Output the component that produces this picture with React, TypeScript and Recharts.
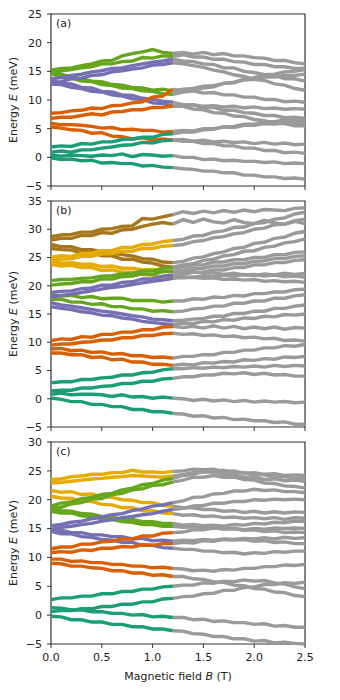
import React from 'react';
import { LineChart, Line, XAxis, YAxis, ReferenceArea } from 'recharts';

// magnetic field grid, 0.1 T steps
const B_VALUES = [
  0, 0.1, 0.2, 0.3, 0.4, 0.5, 0.6, 0.7, 0.8, 0.9, 1.0, 1.1, 1.2,
  1.3, 1.4, 1.5, 1.6, 1.7, 1.8, 1.9, 2.0, 2.1, 2.2, 2.3, 2.4, 2.5,
];
// levels are coloured up to this index (B = 1.2 T), grey after it
const SPLIT = 12;
const X_TICKS = [0, 0.5, 1.0, 1.5, 2.0, 2.5];

const TEAL = '#1b9e77';
const ORANGE = '#d95f02';
const PURPLE = '#7570b3';
const GREEN = '#66a61e';
const YELLOW = '#e6ab02';
const BROWN = '#a6761d';
const GREY = '#9a9a9a';

// panel (a)
const aG1 = [15.2, 15.5, 15.6, 16.0, 16.3, 16.8, 16.9, 17.7, 18.1, 18.4, 18.8, 18.3, 18.1, 18.3, 18.0, 18.3, 17.9, 18.1, 17.7, 17.7, 17.4, 17.3, 16.9, 16.9, 16.5, 16.3];
const aG2 = [14.8, 15.1, 15.3, 15.6, 15.8, 16.3, 16.3, 16.7, 16.8, 17.4, 17.3, 17.7, 17.6, 17.9, 17.5, 17.5, 17.1, 17.1, 16.7, 16.6, 16.2, 16.2, 15.8, 15.8, 15.5, 15.5];
const aP1 = [13.7, 13.9, 14.3, 14.5, 14.9, 15.1, 15.5, 15.6, 16.0, 16.3, 16.6, 16.8, 17.1, 16.8, 16.7, 16.3, 16.2, 15.6, 15.6, 15.0, 14.8, 14.4, 14.3, 13.7, 13.7, 13.3];
const aP2 = [13.0, 13.2, 13.7, 13.8, 14.3, 14.4, 14.9, 15.1, 15.4, 15.6, 16.1, 16.2, 16.5, 16.3, 16.0, 15.7, 15.2, 14.9, 14.4, 14.1, 13.6, 13.4, 12.8, 12.6, 12.0, 11.7];
const aG3 = [15.0, 14.5, 14.0, 13.7, 13.3, 13.2, 12.7, 12.6, 12.2, 12.1, 11.7, 11.9, 11.6, 11.9, 12.0, 12.4, 12.5, 12.9, 13.0, 13.5, 13.6, 14.0, 14.0, 14.3, 14.3, 14.5];
const aG4 = [14.6, 14.1, 13.8, 13.3, 13.2, 12.7, 12.5, 12.1, 12.0, 11.6, 11.5, 11.1, 11.0, 11.4, 11.6, 12.1, 12.3, 12.9, 13.1, 13.6, 13.9, 14.4, 14.5, 14.9, 15.0, 15.3];
const aP3 = [13.5, 12.9, 12.8, 12.2, 12.1, 11.5, 11.4, 10.9, 10.8, 10.3, 10.1, 9.8, 9.6, 9.2, 9.1, 8.7, 8.7, 8.2, 8.2, 7.8, 7.7, 7.3, 7.3, 6.9, 7.0, 6.8];
const aP4 = [12.8, 12.7, 12.2, 12.0, 11.5, 11.4, 10.9, 10.7, 10.2, 10.1, 9.5, 9.4, 8.9, 8.9, 8.4, 8.3, 7.8, 7.7, 7.2, 7.1, 6.6, 6.4, 5.9, 5.9, 5.5, 5.5];
const aO1 = [7.7, 7.8, 8.1, 8.2, 8.6, 8.5, 9.0, 9.1, 9.5, 9.7, 10.5, 10.7, 11.9, 11.5, 11.6, 11.2, 11.3, 10.9, 10.9, 10.5, 10.5, 10.1, 10.1, 9.7, 9.8, 9.6];
const aO2 = [6.8, 7.0, 7.0, 7.3, 7.6, 7.4, 7.9, 8.0, 8.3, 8.3, 8.7, 8.7, 9.0, 9.1, 9.2, 8.9, 9.0, 8.8, 8.9, 8.6, 8.8, 8.5, 8.6, 8.4, 8.5, 8.4];
const aO3 = [5.9, 5.7, 5.7, 5.6, 5.4, 5.1, 5.2, 4.8, 4.9, 4.7, 4.7, 4.4, 4.5, 4.7, 4.6, 5.0, 5.0, 5.3, 5.2, 5.6, 5.6, 5.9, 5.8, 6.1, 6.0, 6.1];
const aO4 = [5.3, 5.1, 4.8, 4.7, 4.2, 4.3, 3.7, 3.6, 3.2, 3.4, 3.0, 3.2, 3.0, 3.1, 2.8, 3.0, 2.7, 2.8, 2.6, 2.7, 2.4, 2.6, 2.3, 2.5, 2.2, 2.3];
const aT1 = [1.8, 2.0, 1.9, 2.4, 2.3, 2.7, 2.7, 3.1, 3.2, 3.5, 3.5, 4.0, 4.1, 4.4, 4.4, 4.8, 4.9, 5.3, 5.4, 5.8, 5.8, 6.2, 6.2, 6.5, 6.4, 6.6];
const aT2 = [0.9, 1.1, 0.9, 1.3, 1.3, 1.6, 1.8, 2.1, 2.2, 2.6, 2.5, 2.9, 3.0, 2.8, 2.8, 2.4, 2.4, 2.0, 2.0, 1.6, 1.6, 1.2, 1.2, 0.8, 0.9, 0.7];
const aT3 = [0.4, 0.2, 0.4, 0.3, 0.2, 0.4, 0.3, 0.6, 0.1, 0.5, 0.4, 0.2, 0.3, 0.0, 0.0, -0.4, -0.3, -0.6, -0.5, -0.7, -0.7, -0.9, -0.8, -1.1, -1.0, -1.1];
const aT4 = [-0.1, -0.4, -0.3, -0.6, -0.5, -1.0, -0.9, -1.1, -1.1, -1.5, -1.4, -1.7, -1.8, -2.0, -2.1, -2.4, -2.4, -2.7, -2.7, -3.1, -3.1, -3.4, -3.4, -3.7, -3.6, -3.8];

// panel (b)
const bBr1 = [28.7, 29.0, 29.1, 29.5, 29.5, 30.0, 30.1, 30.5, 30.6, 31.9, 31.8, 32.2, 32.6, 33.1, 32.8, 33.2, 32.9, 33.3, 33.0, 33.4, 33.1, 33.5, 33.4, 33.3, 33.7, 33.8];
const bBr2 = [28.1, 28.4, 28.4, 28.9, 28.9, 29.4, 29.3, 29.9, 30.0, 30.5, 30.9, 31.2, 30.9, 31.7, 31.2, 31.8, 31.3, 31.1, 31.7, 31.2, 31.0, 31.6, 31.1, 30.9, 31.4, 31.0];
const bY1 = [25.0, 25.3, 25.2, 25.7, 25.8, 26.2, 26.2, 26.8, 26.8, 27.3, 27.4, 27.8, 28.0, 28.2, 28.8, 28.9, 29.5, 29.7, 30.3, 30.4, 31.0, 31.2, 31.8, 32.0, 32.7, 33.0];
const bY2 = [24.4, 24.7, 24.8, 25.2, 25.2, 25.6, 25.7, 26.1, 26.1, 26.6, 26.6, 27.0, 27.1, 27.3, 27.8, 28.0, 28.5, 28.7, 29.2, 29.4, 30.0, 30.2, 30.8, 30.9, 31.5, 31.8];
const bBr3 = [27.3, 26.9, 26.9, 26.4, 26.4, 26.0, 25.8, 25.5, 25.3, 24.8, 24.7, 24.2, 24.1, 24.3, 24.9, 25.1, 25.7, 26.0, 26.6, 26.8, 27.5, 27.7, 28.4, 28.6, 29.3, 29.6];
const bBr4 = [26.6, 26.4, 26.3, 25.8, 25.9, 25.3, 25.3, 24.7, 24.7, 24.2, 24.0, 23.5, 23.3, 23.7, 23.9, 24.5, 24.7, 25.3, 25.5, 26.1, 26.2, 26.8, 27.0, 27.6, 27.8, 28.3];
const bY3 = [24.3, 24.0, 24.1, 23.8, 23.8, 23.4, 23.5, 23.1, 23.1, 22.8, 22.9, 22.5, 22.5, 22.3, 22.5, 22.2, 22.3, 22.0, 22.2, 21.9, 22.0, 21.7, 21.9, 21.6, 21.7, 21.5];
const bY4 = [23.8, 23.5, 23.6, 23.2, 23.2, 22.7, 22.8, 22.4, 22.4, 22.0, 21.9, 21.3, 21.6, 21.4, 21.5, 21.3, 21.4, 21.1, 21.2, 21.0, 21.1, 20.8, 20.9, 20.7, 20.8, 20.6];
const bG1 = [20.9, 21.1, 21.1, 21.3, 21.4, 21.7, 21.8, 22.1, 22.2, 22.6, 22.6, 23.1, 23.2, 23.3, 23.7, 23.7, 24.2, 24.2, 24.6, 24.6, 25.0, 25.0, 25.5, 25.5, 25.9, 26.0];
const bG2 = [20.1, 20.3, 20.4, 20.7, 20.7, 21.2, 21.2, 21.6, 21.7, 22.1, 22.0, 22.5, 22.6, 22.7, 23.1, 23.1, 23.5, 23.5, 23.9, 23.9, 24.3, 24.4, 24.8, 24.8, 25.2, 25.3];
const bP1 = [18.8, 19.0, 19.1, 19.5, 19.6, 20.1, 20.1, 20.6, 20.7, 21.2, 21.2, 21.7, 21.9, 22.0, 22.4, 22.4, 22.8, 22.8, 23.2, 23.2, 23.7, 23.7, 24.1, 24.1, 24.5, 24.6];
const bP2 = [18.0, 18.3, 18.5, 18.8, 19.1, 19.4, 19.7, 19.9, 20.2, 20.5, 20.8, 21.0, 21.3, 21.5, 21.5, 21.7, 21.6, 21.9, 21.7, 22.0, 21.8, 22.1, 21.9, 22.2, 22.0, 22.2];
const bG3 = [18.4, 18.2, 18.3, 17.9, 18.1, 17.7, 17.8, 17.8, 17.4, 17.4, 17.4, 17.1, 17.3, 17.3, 17.7, 17.6, 18.0, 17.9, 18.3, 18.2, 18.6, 18.6, 18.9, 18.9, 19.3, 19.4];
const bG4 = [17.6, 17.6, 17.1, 17.1, 16.7, 16.8, 16.3, 16.3, 15.9, 15.9, 15.5, 15.6, 15.4, 15.5, 15.9, 16.0, 16.4, 16.4, 16.9, 16.9, 17.3, 17.3, 17.8, 17.8, 18.2, 18.4];
const bP3 = [17.0, 16.6, 16.4, 16.1, 15.8, 15.5, 15.3, 15.0, 14.7, 14.5, 14.1, 14.0, 13.8, 13.9, 14.1, 14.2, 14.6, 14.6, 15.1, 15.1, 15.5, 15.5, 16.0, 16.0, 16.4, 16.6];
const bP4 = [16.3, 16.0, 15.8, 15.4, 15.2, 14.8, 14.7, 14.3, 14.1, 13.7, 13.5, 13.3, 13.1, 13.4, 13.3, 13.7, 13.6, 14.0, 13.9, 14.3, 14.2, 14.6, 14.5, 14.9, 14.8, 15.0];
const bO1 = [10.3, 10.6, 10.5, 11.0, 10.9, 11.4, 11.4, 11.8, 11.8, 12.2, 12.2, 12.7, 12.8, 12.6, 12.8, 12.5, 12.9, 12.5, 12.8, 12.4, 12.7, 12.4, 12.7, 12.3, 12.6, 12.5];
const bO2 = [9.5, 9.7, 9.7, 10.0, 10.1, 10.4, 10.4, 10.8, 10.8, 11.2, 11.2, 11.5, 11.6, 11.4, 11.5, 11.2, 11.3, 11.0, 11.1, 10.8, 10.9, 10.6, 10.7, 10.3, 10.4, 10.2];
const bO3 = [8.8, 8.9, 8.5, 8.6, 8.2, 8.3, 7.9, 8.0, 7.6, 7.6, 7.3, 7.4, 7.2, 7.5, 7.5, 7.8, 7.8, 8.2, 8.2, 8.6, 8.6, 9.0, 9.0, 9.4, 9.3, 9.6];
const bO4 = [8.1, 8.1, 7.8, 7.8, 7.3, 7.4, 6.9, 7.0, 6.5, 6.5, 6.1, 6.1, 5.9, 6.1, 6.0, 6.4, 6.3, 6.6, 6.5, 6.9, 6.8, 7.1, 7.0, 7.4, 7.3, 7.5];
const bT1 = [2.8, 3.0, 3.0, 3.4, 3.4, 3.7, 3.8, 4.2, 4.2, 4.6, 4.7, 5.1, 5.3, 5.3, 5.5, 5.4, 5.6, 5.5, 5.7, 5.6, 5.8, 5.6, 5.9, 5.7, 5.9, 5.8];
const bT2 = [1.4, 1.5, 1.5, 1.9, 1.9, 2.2, 2.3, 2.7, 2.7, 3.1, 3.1, 3.5, 3.6, 3.9, 3.9, 4.2, 4.2, 4.5, 4.4, 4.6, 4.3, 4.5, 4.2, 4.3, 4.0, 4.0];
const bT3 = [0.8, 1.0, 0.7, 0.8, 0.8, 0.7, 0.4, 0.7, 0.3, 0.4, 0.1, 0.3, 0.1, 0.0, -0.3, -0.1, -0.4, -0.2, -0.5, -0.3, -0.6, -0.4, -0.6, -0.5, -0.7, -0.6];
const bT4 = [0.1, -0.1, -0.5, -0.5, -1.0, -1.0, -1.4, -1.4, -1.9, -1.9, -2.3, -2.3, -2.6, -2.7, -3.1, -3.0, -3.4, -3.3, -3.7, -3.6, -3.9, -3.9, -4.2, -4.1, -4.5, -4.5];

// panel (c)
const cY1 = [23.5, 23.6, 24.0, 24.1, 24.4, 24.4, 24.7, 24.7, 25.1, 24.8, 24.8, 24.7, 24.9, 25.0, 25.3, 25.2, 25.3, 24.9, 25.0, 24.6, 24.7, 24.4, 24.5, 24.2, 24.3, 24.2];
const cY2 = [22.9, 23.0, 23.2, 23.4, 23.6, 23.7, 23.9, 24.0, 24.2, 24.1, 24.0, 23.9, 24.1, 24.4, 24.7, 24.8, 24.8, 24.4, 24.3, 23.9, 23.9, 23.5, 23.6, 23.3, 23.4, 23.2];
const cY3 = [21.6, 21.3, 21.4, 20.9, 21.0, 20.5, 20.4, 20.0, 19.9, 19.5, 19.5, 19.0, 18.9, 18.6, 18.6, 18.3, 18.3, 18.0, 18.1, 17.8, 18.0, 17.7, 17.9, 17.7, 17.9, 17.8];
const cY4 = [20.6, 20.3, 20.2, 19.8, 19.7, 19.2, 19.1, 18.6, 18.6, 18.1, 18.1, 17.7, 17.6, 17.3, 17.4, 17.1, 17.2, 16.9, 17.0, 16.8, 16.9, 16.7, 16.9, 16.6, 16.9, 16.8];
const cG1 = [18.9, 19.4, 19.6, 20.2, 20.4, 20.9, 21.1, 21.7, 22.0, 22.6, 22.8, 23.4, 23.7, 24.2, 24.4, 24.9, 24.9, 25.1, 24.7, 24.7, 24.3, 24.3, 23.9, 24.0, 23.7, 23.8];
const cG2 = [18.5, 18.7, 19.3, 19.5, 20.1, 20.2, 20.9, 21.1, 21.7, 21.9, 22.5, 22.6, 23.1, 23.4, 23.9, 23.9, 24.2, 23.9, 23.9, 23.5, 23.4, 22.9, 22.8, 22.4, 22.3, 22.0];
const cG3 = [18.4, 18.1, 18.0, 17.6, 17.5, 17.1, 17.0, 16.6, 16.6, 16.2, 16.2, 15.9, 15.9, 15.6, 15.7, 15.5, 15.6, 15.4, 15.7, 15.6, 15.9, 15.8, 16.1, 16.0, 16.3, 16.2];
const cG4 = [18.0, 17.7, 17.7, 17.2, 17.1, 16.7, 16.6, 16.2, 16.1, 15.7, 15.7, 15.4, 15.4, 15.2, 15.3, 15.0, 15.2, 14.9, 15.0, 14.8, 15.0, 14.9, 15.1, 15.0, 15.1, 15.0];
const cP1 = [15.5, 15.7, 16.1, 16.3, 16.7, 17.0, 17.4, 17.6, 18.1, 18.4, 18.9, 19.1, 19.5, 19.8, 20.4, 20.5, 21.0, 21.1, 21.5, 21.5, 21.8, 21.6, 21.7, 21.4, 21.4, 21.2];
const cP2 = [14.9, 15.2, 15.4, 15.7, 15.9, 16.3, 16.5, 16.9, 17.1, 17.4, 17.6, 18.0, 18.3, 18.5, 18.9, 19.0, 19.4, 19.4, 19.7, 19.7, 20.0, 19.9, 20.1, 20.0, 20.1, 20.0];
const cP3 = [14.8, 14.7, 14.3, 14.3, 13.9, 13.9, 13.6, 13.6, 13.2, 13.3, 12.9, 13.0, 12.8, 13.0, 12.9, 13.1, 13.0, 13.2, 13.1, 13.3, 13.2, 13.4, 13.2, 13.5, 13.3, 13.4];
const cP4 = [14.5, 14.1, 14.1, 13.6, 13.5, 13.1, 13.0, 12.6, 12.6, 12.1, 12.1, 11.7, 11.6, 11.4, 11.4, 11.1, 11.1, 10.8, 10.9, 10.6, 10.8, 10.7, 11.0, 10.9, 11.1, 11.1];
const cO1 = [11.5, 11.8, 11.8, 12.3, 12.3, 12.7, 12.8, 13.2, 13.2, 13.7, 13.7, 14.2, 14.3, 14.4, 14.8, 14.8, 15.1, 14.9, 15.0, 14.7, 14.8, 14.5, 14.6, 14.3, 14.4, 14.3];
const cO2 = [10.8, 11.0, 10.9, 11.3, 11.2, 11.6, 11.6, 11.9, 11.8, 12.2, 12.1, 12.4, 12.4, 12.6, 12.5, 12.9, 12.8, 13.1, 13.0, 13.1, 12.8, 12.9, 12.6, 12.7, 12.4, 12.4];
const cO3 = [9.7, 9.7, 9.3, 9.4, 9.1, 9.1, 8.8, 8.8, 8.5, 8.5, 8.2, 8.3, 8.1, 8.0, 7.7, 7.8, 7.6, 7.9, 7.8, 8.1, 8.1, 8.4, 8.4, 8.7, 8.6, 8.8];
const cO4 = [9.0, 8.9, 8.5, 8.5, 8.2, 8.1, 7.7, 7.7, 7.3, 7.3, 6.9, 7.0, 6.7, 6.7, 6.3, 6.2, 5.8, 5.7, 5.2, 5.1, 4.6, 4.5, 4.0, 3.9, 3.4, 3.2];
const cT1 = [2.7, 3.0, 3.0, 3.3, 3.3, 3.7, 3.7, 4.1, 4.1, 4.5, 4.5, 4.9, 5.0, 5.2, 5.2, 5.6, 5.5, 5.9, 5.8, 6.1, 5.9, 6.0, 5.6, 5.4, 4.9, 4.6];
const cT2 = [0.6, 0.8, 0.8, 1.1, 1.1, 1.5, 1.5, 1.9, 1.9, 2.3, 2.3, 2.8, 2.9, 3.2, 3.3, 3.7, 3.8, 4.3, 4.3, 4.8, 4.9, 5.3, 5.3, 5.6, 5.5, 5.7];
const cT3 = [1.3, 1.2, 0.9, 0.9, 0.6, 0.6, 0.3, 0.3, 0.0, 0.1, -0.3, -0.2, -0.4, -0.4, -0.8, -0.7, -1.1, -1.0, -1.3, -1.3, -1.6, -1.5, -1.9, -1.8, -2.1, -2.1];
const cT4 = [-0.2, -0.3, -0.8, -0.8, -1.2, -1.2, -1.6, -1.6, -2.0, -2.0, -2.4, -2.4, -2.7, -2.8, -3.2, -3.3, -3.7, -3.7, -4.1, -4.1, -4.5, -4.4, -4.8, -4.7, -4.9, -5.0];

type Level = { id: string; color: string; values: number[] };

const levelsA: Level[] = [
  { id: 'g1', color: GREEN, values: aG1 }, { id: 'g2', color: GREEN, values: aG2 },
  { id: 'g3', color: GREEN, values: aG3 }, { id: 'g4', color: GREEN, values: aG4 },
  { id: 'p1', color: PURPLE, values: aP1 }, { id: 'p2', color: PURPLE, values: aP2 },
  { id: 'p3', color: PURPLE, values: aP3 }, { id: 'p4', color: PURPLE, values: aP4 },
  { id: 'o1', color: ORANGE, values: aO1 }, { id: 'o2', color: ORANGE, values: aO2 },
  { id: 'o3', color: ORANGE, values: aO3 }, { id: 'o4', color: ORANGE, values: aO4 },
  { id: 't1', color: TEAL, values: aT1 }, { id: 't2', color: TEAL, values: aT2 },
  { id: 't3', color: TEAL, values: aT3 }, { id: 't4', color: TEAL, values: aT4 },
];

const levelsB: Level[] = [
  { id: 'br1', color: BROWN, values: bBr1 }, { id: 'br2', color: BROWN, values: bBr2 },
  { id: 'br3', color: BROWN, values: bBr3 }, { id: 'br4', color: BROWN, values: bBr4 },
  { id: 'y1', color: YELLOW, values: bY1 }, { id: 'y2', color: YELLOW, values: bY2 },
  { id: 'y3', color: YELLOW, values: bY3 }, { id: 'y4', color: YELLOW, values: bY4 },
  { id: 'g1', color: GREEN, values: bG1 }, { id: 'g2', color: GREEN, values: bG2 },
  { id: 'g3', color: GREEN, values: bG3 }, { id: 'g4', color: GREEN, values: bG4 },
  { id: 'p1', color: PURPLE, values: bP1 }, { id: 'p2', color: PURPLE, values: bP2 },
  { id: 'p3', color: PURPLE, values: bP3 }, { id: 'p4', color: PURPLE, values: bP4 },
  { id: 'o1', color: ORANGE, values: bO1 }, { id: 'o2', color: ORANGE, values: bO2 },
  { id: 'o3', color: ORANGE, values: bO3 }, { id: 'o4', color: ORANGE, values: bO4 },
  { id: 't1', color: TEAL, values: bT1 }, { id: 't2', color: TEAL, values: bT2 },
  { id: 't3', color: TEAL, values: bT3 }, { id: 't4', color: TEAL, values: bT4 },
];

const levelsC: Level[] = [
  { id: 'y1', color: YELLOW, values: cY1 }, { id: 'y2', color: YELLOW, values: cY2 },
  { id: 'y3', color: YELLOW, values: cY3 }, { id: 'y4', color: YELLOW, values: cY4 },
  { id: 'g1', color: GREEN, values: cG1 }, { id: 'g2', color: GREEN, values: cG2 },
  { id: 'g3', color: GREEN, values: cG3 }, { id: 'g4', color: GREEN, values: cG4 },
  { id: 'p1', color: PURPLE, values: cP1 }, { id: 'p2', color: PURPLE, values: cP2 },
  { id: 'p3', color: PURPLE, values: cP3 }, { id: 'p4', color: PURPLE, values: cP4 },
  { id: 'o1', color: ORANGE, values: cO1 }, { id: 'o2', color: ORANGE, values: cO2 },
  { id: 'o3', color: ORANGE, values: cO3 }, { id: 'o4', color: ORANGE, values: cO4 },
  { id: 't1', color: TEAL, values: cT1 }, { id: 't2', color: TEAL, values: cT2 },
  { id: 't3', color: TEAL, values: cT3 }, { id: 't4', color: TEAL, values: cT4 },
];

const buildRows = (levels: Level[]) =>
  B_VALUES.map((b, i) => {
    const row: Record<string, number> = { B: b };
    levels.forEach((l) => {
      if (i <= SPLIT) row[l.id + 'c'] = l.values[i];
      if (i >= SPLIT) row[l.id + 'g'] = l.values[i];
    });
    return row;
  });

const AXIS = '#333333';
const FONT = 11;
const fmtY = (v: number) => (v < 0 ? `\u2212${-v}` : `${v}`);

const YLabel = (props: any) => {
  const vb = props.viewBox;
  const x = vb.x + 9;
  const y = vb.y + vb.height / 2;
  return (
    <text x={x} y={y} transform={`rotate(-90, ${x}, ${y})`} textAnchor="middle" fontSize={FONT} fill="#222">
      Energy <tspan fontStyle="italic">E</tspan> (meV)
    </text>
  );
};

const XLabel = (props: any) => {
  const vb = props.viewBox;
  return (
    <text x={vb.x + vb.width / 2} y={vb.y + 36} textAnchor="middle" fontSize={FONT} fill="#222">
      Magnetic field <tspan fontStyle="italic">B</tspan> (T)
    </text>
  );
};

interface PanelProps {
  tag: string;
  levels: Level[];
  yMin: number;
  yMax: number;
  height: number;
  top: number;
  bottomAxis?: boolean;
}

const Panel: React.FC<PanelProps> = ({ tag, levels, yMin, yMax, height, top, bottomAxis }) => {
  const rows = buildRows(levels);
  const yTicks: number[] = [];
  for (let v = yMin; v <= yMax; v += 5) yTicks.push(v);
  return (
    <LineChart width={320} height={height} data={rows} margin={{ top, right: 23, bottom: 0, left: 0 }}>
      <XAxis
        dataKey="B"
        type="number"
        domain={[0, 2.5]}
        ticks={X_TICKS}
        axisLine={false}
        tickLine={{ stroke: AXIS }}
        tickSize={4}
        tickMargin={5}
        height={bottomAxis ? 40 : 6}
        tick={{ fontSize: FONT, fill: '#222' }}
        tickFormatter={bottomAxis ? (v: number) => v.toFixed(1) : () => ''}
        label={bottomAxis ? <XLabel /> : undefined}
      />
      <YAxis
        type="number"
        domain={[yMin, yMax]}
        ticks={yTicks}
        width={43}
        axisLine={false}
        tickLine={{ stroke: AXIS }}
        tickSize={4}
        tickMargin={5}
        tick={{ fontSize: FONT, fill: '#222' }}
        tickFormatter={fmtY}
        label={<YLabel />}
      />
      {levels.map((l) => (
        <Line
          key={l.id + 'c'}
          dataKey={l.id + 'c'}
          stroke={l.color}
          strokeWidth={3.4}
          dot={false}
          activeDot={false}
          isAnimationActive={false}
        />
      ))}
      {levels.map((l) => (
        <Line
          key={l.id + 'g'}
          dataKey={l.id + 'g'}
          stroke={GREY}
          strokeWidth={3.4}
          dot={false}
          activeDot={false}
          isAnimationActive={false}
        />
      ))}
      <ReferenceArea
        x1={0}
        x2={2.5}
        y1={yMin}
        y2={yMax}
        fill="none"
        fillOpacity={0}
        stroke={AXIS}
        strokeWidth={1.2}
        label={{ value: tag, position: 'insideTopLeft', offset: 5, fontSize: FONT, fill: '#222' }}
      />
    </LineChart>
  );
};

export default function App() {
  return (
    <div style={{ width: 324, fontFamily: 'DejaVu Sans' }}>
      <Panel tag="(a)" levels={levelsA} yMin={-5} yMax={25} height={184} top={6} />
      <Panel tag="(b)" levels={levelsB} yMin={-5} yMax={35} height={241} top={9} />
      <Panel tag="(c)" levels={levelsC} yMin={-5} yMax={30} height={251} top={9} bottomAxis />
    </div>
  );
}
